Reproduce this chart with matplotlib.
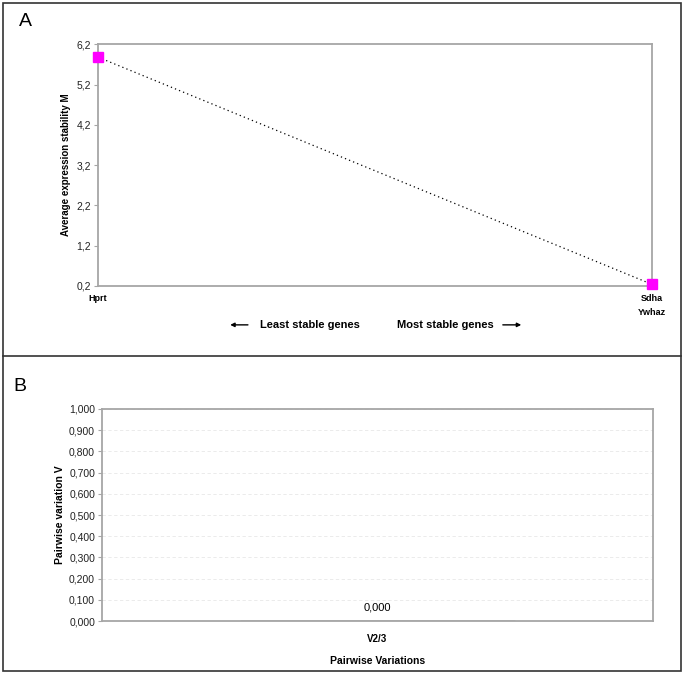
import matplotlib.pyplot as plt
from matplotlib.patches import Rectangle, FancyArrowPatch
from matplotlib.lines import Line2D

plt.rcParams['font.family'] = ['Liberation Sans', 'DejaVu Sans']

# Panel A data
genes = ['Hprt', 'Sdha\nYwhaz']
stability_m = [5.88, 0.24]
a_ticks = [0.2, 1.2, 2.2, 3.2, 4.2, 5.2, 6.2]

# Panel B data
pairs = ['V2/3']
pairwise_v = [0.0]
b_ticks = [0.0, 0.1, 0.2, 0.3, 0.4, 0.5, 0.6, 0.7, 0.8, 0.9, 1.0]

frame_gray = '#a6a6a6'

fig = plt.figure(figsize=(6.85, 6.74), dpi=100)

# outer frame and divider
fig.patches.append(Rectangle((0.005, 0.005), 0.989, 0.99, transform=fig.transFigure,
                             fill=False, edgecolor='#333333', linewidth=1.2))
fig.lines.append(Line2D([0.005, 0.994], [0.472, 0.472], transform=fig.transFigure,
                        color='#333333', linewidth=1.2))

# ---- Panel A ----
ax1 = fig.add_axes([0.1431, 0.5757, 0.8088, 0.3586])
xs = list(range(len(genes)))
ax1.plot(xs, stability_m, linestyle=(0, (1, 2.5)), color='black', linewidth=0.9,
         marker='s', markersize=7.5, markerfacecolor='#ff00ff', markeredgecolor='#ff00ff',
         clip_on=False, zorder=5)
ax1.set_xlim(0, 1)
ax1.set_ylim(0.2, 6.2)
ax1.set_yticks(a_ticks)
ax1.set_yticklabels([f'{v:.1f}'.replace('.', ',') for v in a_ticks], fontsize=7.5, color='#222222')
ax1.set_xticks(xs)
ax1.set_xticklabels(genes, fontsize=6.5, fontweight='bold', linespacing=1.6)
ax1.tick_params(axis='x', length=0, pad=6)
ax1.tick_params(axis='y', length=3, color=frame_gray, pad=2)
for s in ax1.spines.values():
    s.set_color(frame_gray)
    s.set_linewidth(1.3)
ax1.set_ylabel('Average expression stability M', fontsize=7, fontweight='bold', labelpad=4)

fig.text(0.028, 0.968, 'A', fontsize=14, va='center', ha='left')
fig.text(0.453, 0.518, 'Least stable genes', fontsize=8, fontweight='bold', ha='center', va='center')
fig.text(0.650, 0.518, 'Most stable genes', fontsize=8, fontweight='bold', ha='center', va='center')
fig.patches.append(FancyArrowPatch((0.366, 0.518), (0.332, 0.518),
                   transform=fig.transFigure, arrowstyle='-|>', mutation_scale=6,
                   color='black', linewidth=1))
fig.patches.append(FancyArrowPatch((0.730, 0.518), (0.765, 0.518),
                   transform=fig.transFigure, arrowstyle='-|>', mutation_scale=6,
                   color='black', linewidth=1))

# ---- Panel B ----
ax2 = fig.add_axes([0.1489, 0.0786, 0.8044, 0.3146])
bx = list(range(len(pairs)))
ax2.bar(bx, pairwise_v, width=0.5, color='#9999ff', edgecolor='black')
for x, v in zip(bx, pairwise_v):
    ax2.annotate(f'{v:.3f}'.replace('.', ','), (x, v), xytext=(0, 6), textcoords='offset points',
                 ha='center', va='bottom', fontsize=8)
ax2.set_xlim(-0.5, 0.5)
ax2.set_ylim(0, 1.0)
ax2.set_yticks(b_ticks)
ax2.set_yticklabels([f'{v:.3f}'.replace('.', ',') for v in b_ticks], fontsize=7.5, color='#222222')
ax2.set_xticks(bx)
ax2.set_xticklabels(pairs, fontsize=7, fontweight='bold')
ax2.tick_params(axis='x', length=0, pad=9)
ax2.tick_params(axis='y', length=3, color=frame_gray, pad=2)
ax2.yaxis.grid(True, color='#e8e8e8', linestyle=(0, (4, 3)), linewidth=0.6)
ax2.set_axisbelow(True)
for s in ax2.spines.values():
    s.set_color(frame_gray)
    s.set_linewidth(1.3)
ax2.set_ylabel('Pairwise variation V', fontsize=7.5, fontweight='bold', labelpad=3)
ax2.set_xlabel('Pairwise Variations', fontsize=7.5, fontweight='bold', labelpad=9)

fig.text(0.019, 0.427, 'B', fontsize=14, va='center', ha='left')

fig.savefig('out.png', dpi=100)
